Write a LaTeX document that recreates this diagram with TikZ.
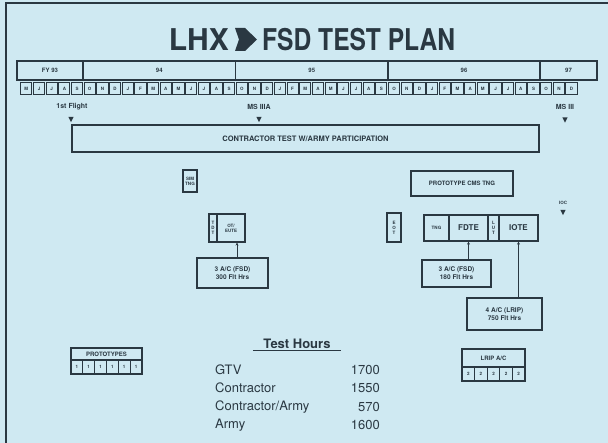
\documentclass[tikz,border=0pt]{standalone}
\usepackage{fontspec}
\setmainfont{TeX Gyre Heros}
\usetikzlibrary{arrows.meta}
\definecolor{bg}{RGB}{207,233,242}
\definecolor{ink}{RGB}{42,56,66}
\begin{document}
\begin{tikzpicture}[x=1pt,y=-1pt,
  box/.style={draw=ink, line width=1.2pt, inner sep=0pt, align=center, text=ink},
  tinyt/.style={font=\fontsize{4.5}{5}\selectfont\bfseries},
  smallt/.style={font=\fontsize{6}{7}\selectfont\bfseries},
  midt/.style={font=\fontsize{6.5}{8}\selectfont\bfseries},
  bigt/.style={font=\fontsize{8}{9}\selectfont\bfseries},
  lbl/.style={text=ink, inner sep=0pt, font=\fontsize{7}{8}\selectfont\bfseries},
  hrs/.style={text=ink, inner sep=0pt, font=\fontsize{13}{15}\selectfont},
  arr/.style={draw=ink, line width=0.8pt, -{Stealth[length=3pt,width=3pt]}},
  downtri/.pic={\fill[ink] (-2.6,-2.6) -- (2.6,-2.6) -- (0,2.6) -- cycle;}
]
\useasboundingbox (0,0) rectangle (608,443);
\fill[bg] (0,0) rectangle (608,443);
\draw[ink, line width=2pt] (6,443) -- (6,3) -- (608,3);

% title
\node[text=ink, inner sep=0pt, anchor=east, font=\fontsize{30}{32}\selectfont\bfseries] (tl) at (229,39.5) {LHX};
\node[text=ink, inner sep=0pt, anchor=west, font=\fontsize{30}{32}\selectfont\bfseries] (tr) at (262,39.5) {\scalebox{0.82}[1]{FSD TEST PLAN}};
\fill[ink] (235,28) -- (245,28) -- (257,39.5) -- (245,51) -- (235,51) -- (239,39.5) -- cycle;

% year row
\begin{scope}[every node/.style={box, line width=1.5pt, minimum height=19pt, smallt}]
\node[minimum width=66pt] (y93) at (50,70.5) {FY 93};
\node[minimum width=152.5pt] (y94) at (159.25,70.5) {94};
\node[minimum width=152.5pt] (y95) at (311.75,70.5) {95};
\node[minimum width=152pt] (y96) at (464,70.5) {96};
\node[minimum width=57pt] (y97) at (568.5,70.5) {97};
\end{scope}

% month row
\foreach \m [count=\i from 0] in {M,J,J,A,S,O,N,D,J,F,M,A,M,J,J,A,S,O,N,D,J,F,M,A,M,J,J,A,S,O,N,D,J,F,M,A,M,J,J,A,S,O,N,D}{
  \node[box, line width=1pt, minimum width=11.2pt, minimum height=12pt, tinyt] (m\i) at ({20+12.68*(\i+0.5)},88.5) {\m};
}

% milestones
\node[lbl] (ff) at (72,107) {1st Flight};
\node[lbl] (ms3a) at (259,107) {MS IIIA};
\node[lbl] (ms3) at (565,107) {MS III};
\pic at (71,119.5) {downtri};
\pic at (259,119.5) {downtri};
\pic at (565,120) {downtri};

% contractor test
\node[box, line width=1.4pt, minimum width=467pt, minimum height=27pt, font=\fontsize{7.5}{9}\selectfont\bfseries] (ct) at (305.5,138.5) {CONTRACTOR TEST W/ARMY PARTICIPATION};

% left group
\node[box, minimum width=14pt, minimum height=22pt, tinyt] (sim) at (190,181) {SIM\\TNG};
\node[box, minimum width=8pt, minimum height=28pt, tinyt] (dtL) at (213,228) {T\\D\\T};
\node[box, minimum width=28pt, minimum height=28pt, tinyt] (dtR) at (231,228) {OT/\\EUTE};
\node[box, minimum width=71pt, minimum height=30pt, midt] (ac1) at (232.5,273) {3 A/C (FSD)\\300 Flt Hrs};
\draw[arr] ([xshift=4.5pt]ac1.north) -- ([xshift=4.5pt]ac1.north |- dtR.south);

% right group
\node[box, minimum width=102pt, minimum height=25pt, smallt] (cms) at (462,183.5) {PROTOTYPE CMS TNG};
\node[box, minimum width=14pt, minimum height=29pt, tinyt] (eot) at (394,227.5) {E\\O\\T};
\node[box, minimum width=25pt, minimum height=26pt, tinyt] (tng) at (436.5,228) {TNG};
\node[box, minimum width=39pt, minimum height=26pt, bigt] (fdte) at (468.5,228) {FDTE};
\node[box, minimum width=11pt, minimum height=26pt, tinyt] (lut) at (493.5,228) {L\\U\\T};
\node[box, minimum width=39pt, minimum height=26pt, bigt] (iote) at (518.5,228) {IOTE};
\node[box, minimum width=69pt, minimum height=27pt, midt] (ac2) at (456.5,273.5) {3 A/C (FSD)\\180 Flt Hrs};
\node[box, minimum width=75pt, minimum height=32pt, midt] (ac3) at (504.5,314) {4 A/C (LRIP)\\750 Flt Hrs};
\draw[arr] (ac2.north -| fdte.south) -- (fdte.south);
\draw[arr] (ac3.north -| iote.south) -- (iote.south);
\node[text=ink, inner sep=0pt, tinyt] (ioc) at (563,203) {IOC};
\pic at (563,212.5) {downtri};

% prototypes
\node[box, minimum width=71pt, minimum height=12pt, smallt] (proto) at (106.5,354) {PROTOTYPES};
\foreach \i in {0,...,5}{
  \node[box, minimum width=11.83pt, minimum height=14pt, tinyt] (p\i) at ({71+11.83*(\i+0.5)},367) {1};
}

% LRIP A/C
\node[box, minimum width=63pt, minimum height=18pt, smallt] (lrip) at (493.5,358) {LRIP A/C};
\foreach \i in {0,...,4}{
  \node[box, minimum width=12.6pt, minimum height=14pt, tinyt] (l\i) at ({462+12.6*(\i+0.5)},374) {2};
}

% test hours
\node[text=ink, inner sep=1.5pt, minimum width=88pt, font=\fontsize{13}{15}\selectfont\bfseries] (th) at (297,344) {Test Hours};
\draw[ink, line width=1.3pt] (th.south west) -- (th.south east);
\node[hrs, anchor=west] (r1) at (215,370) {GTV};
\node[hrs, anchor=west] (r2) at (215,388) {Contractor};
\node[hrs, anchor=west] (r3) at (215,407) {Contractor/Army};
\node[hrs, anchor=west] (r4) at (215,425) {Army};
\node[hrs, anchor=east] (v1) at (380,370) {1700};
\node[hrs, anchor=east] (v2) at (380,388) {1550};
\node[hrs, anchor=east] (v3) at (380,407) {570};
\node[hrs, anchor=east] (v4) at (380,425) {1600};
\end{tikzpicture}
\end{document}
